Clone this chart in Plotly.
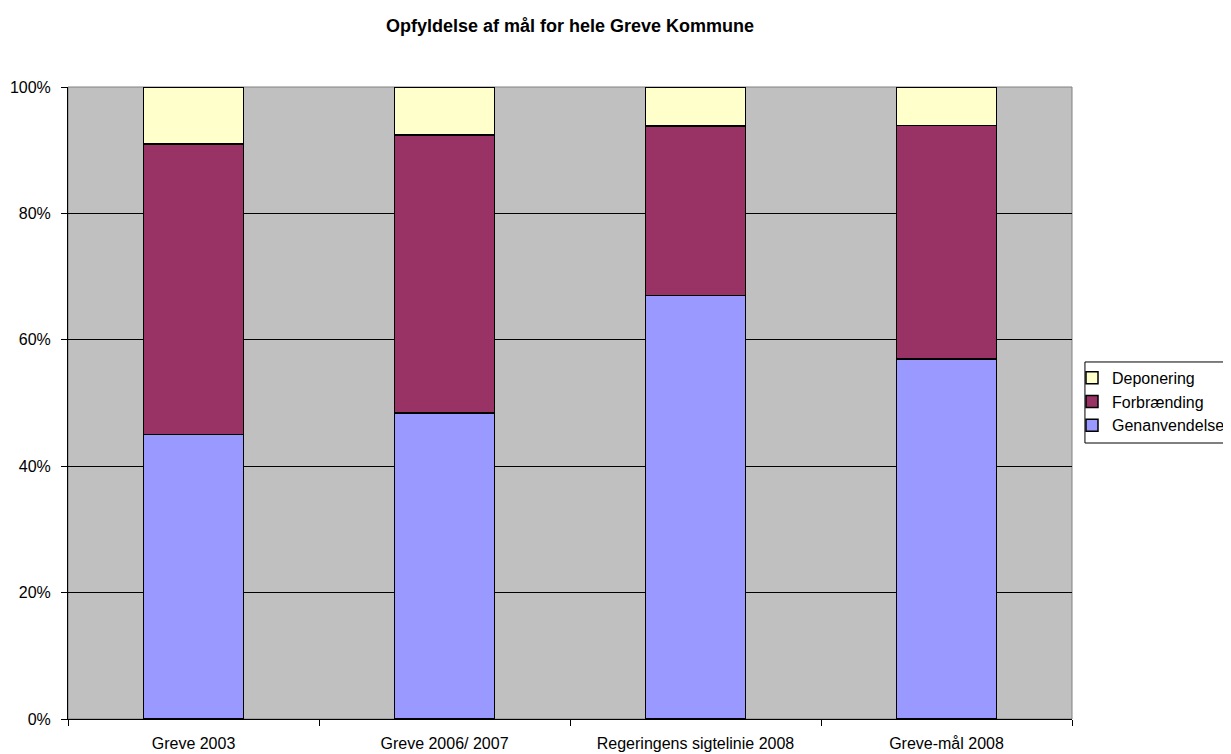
import plotly.graph_objects as go

categories = ["Greve 2003", "Greve 2006/ 2007", "Regeringens sigtelinie 2008", "Greve-mål 2008"]
genanvendelse = [45.0, 48.4, 67.0, 57.0]
forbraending = [46.0, 44.0, 26.8, 36.9]
deponering = [9.0, 7.6, 6.2, 6.1]

fig = go.Figure()
series = [
    ("Genanvendelse", genanvendelse, "#9999FF"),
    ("Forbrænding", forbraending, "#993366"),
    ("Deponering", deponering, "#FFFFCC"),
]
for name, vals, col in series:
    fig.add_trace(go.Bar(
        name=name, x=categories, y=vals,
        marker=dict(color=col, line=dict(color="black", width=1.5)),
        width=0.4,
        hovertemplate="%{x}<br>" + name + ": %{y}%<extra></extra>",
    ))

# page body has an 8px margin, so the figure is sized/offset to compensate
fig.update_layout(
    barmode="stack",
    width=1223, height=746,
    margin=dict(l=60, r=159, t=79, b=35, autoexpand=False),
    paper_bgcolor="white",
    plot_bgcolor="#C0C0C0",
    font=dict(family="Liberation Sans, Arial, sans-serif", size=16, color="black"),
    title=dict(text="<b>Opfyldelse af mål for hele Greve Kommune</b>",
               x=0.5, xref="paper", xanchor="center", y=0.9759, yanchor="middle",
               font=dict(size=18)),
    legend=dict(traceorder="reversed", x=1.0, xanchor="left", y=0.502, yanchor="middle",
                borderwidth=0, bgcolor="rgba(0,0,0,0)",
                font=dict(size=16), itemwidth=30, tracegroupgap=0),
    showlegend=True,
)
fig.update_xaxes(
    showline=True, linecolor="black", linewidth=1,
    ticks="outside", tickson="boundaries", ticklen=6, tickcolor="black",
    showgrid=False, tickfont=dict(size=16), ticklabelstandoff=10,
)
fig.update_yaxes(
    range=[0, 100], dtick=20, ticksuffix="%",
    showline=True, linecolor="black", linewidth=1,
    ticks="outside", ticklen=6, tickcolor="black",
    showgrid=True, gridcolor="black", gridwidth=1,
    zeroline=False, tickfont=dict(size=16), ticklabelstandoff=7,
)
# plot-area border
fig.add_shape(type="rect", xref="paper", yref="paper", x0=0, x1=1, y0=0, y1=1,
              line=dict(color="#808080", width=1), layer="below")
# legend frame
fig.add_shape(type="rect", xref="paper", yref="paper",
              x0=1.0129, x1=1.1554, y0=0.4367, y1=0.5649,
              line=dict(color="black", width=1), fillcolor="white", layer="below")

fig.write_html("out.html")
